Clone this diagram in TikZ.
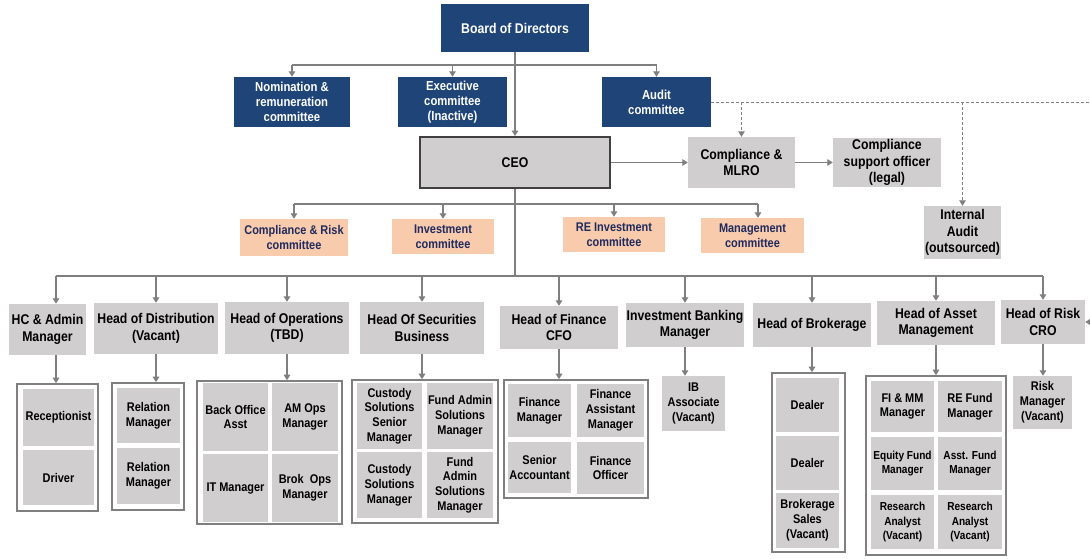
\documentclass[tikz,border=0pt]{standalone}
\usepackage{fontspec}
\setmainfont{Liberation Sans}[FakeStretch=0.87]
\usetikzlibrary{arrows.meta}
\definecolor{bblue}{HTML}{1F4478}
\definecolor{bgray}{HTML}{D0CECE}
\definecolor{borange}{HTML}{F8CBAD}
\definecolor{navytxt}{HTML}{1F2A5E}
\definecolor{lgray}{HTML}{7F7F7F}
\definecolor{ceoline}{HTML}{404040}
\newcommand\fH{\fontsize{14.1}{16.4}\selectfont\bfseries}
\newcommand\fB{\fontsize{13}{15}\selectfont\bfseries}
\newcommand\fS{\fontsize{12.6}{14.8}\selectfont\bfseries}
\newcommand\fT{\fontsize{11.6}{14.6}\selectfont\bfseries}
\newcommand\orgbox[7]{\node[#1, minimum width={(#5-#3)*1pt}, minimum height={(#6-#4)*1pt}] (#2) at ({(#3+#5)/2},{(#4+#6)/2}) {#7};}
\tikzset{
  every node/.style={inner sep=0.5pt, align=center, text=black},
  bluebox/.style={fill=bblue, text=white, font=\fB},
  graybox/.style={fill=bgray, font=\fH},
  subbox/.style={fill=bgray, font=\fS},
  tinybox/.style={fill=bgray, font=\fT},
  orangebox/.style={fill=borange, text=navytxt, font=\fS},
  ceobox/.style={fill=bgray, draw=ceoline, line width=2pt, font=\fH},
  container/.style={draw=lgray, line width=1.6pt, fill=white},
  conn/.style={draw=lgray, line width=1.3pt},
  arr/.style={conn, -{Triangle[width=6.5pt,length=5.5pt]}},
  dashconn/.style={draw=lgray, line width=1pt, dash pattern=on 3pt off 2pt},
  darr/.style={dashconn, -{Triangle[width=6.5pt,length=5.5pt]}}
}
\begin{document}
\begin{tikzpicture}[x=1pt,y=-1pt]
\useasboundingbox (0,0) rectangle (1090,558);
\fill[white] (0,0) rectangle (1090,558);
% top level
\orgbox{bluebox, font=\fH}{board}{441}{4}{589}{52}{Board of Directors}
\orgbox{bluebox}{nom}{234}{77}{350}{127}{Nomination \&\\remuneration\\committee}
\orgbox{bluebox}{exec}{398}{77}{507}{127}{Executive\\committee\\(Inactive)}
\orgbox{bluebox}{audit}{602}{77}{711}{127}{Audit\\committee}
\orgbox{ceobox}{ceo}{420}{137}{610}{188}{CEO}
\orgbox{graybox}{mlro}{688}{137}{795}{188}{Compliance \&\\MLRO}
\orgbox{graybox}{cso}{833}{138}{941}{187}{Compliance\\support officer\\(legal)}
\orgbox{graybox}{ia}{924}{206}{1001}{259}{Internal\\Audit\\(outsourced)}
% committees
\orgbox{orangebox}{cr}{240}{219}{348}{256}{Compliance \& Risk\\committee}
\orgbox{orangebox}{inv}{392}{219}{494}{254}{Investment\\committee}
\orgbox{orangebox}{rei}{563}{217}{665}{252}{RE Investment\\committee}
\orgbox{orangebox}{mgmt}{701}{218}{804}{253}{Management\\committee}
% heads
\orgbox{graybox}{hc}{9}{304}{86}{355}{HC \& Admin\\Manager}
\orgbox{graybox}{dist}{94}{303}{218}{354}{Head of Distribution\\(Vacant)}
\orgbox{graybox}{ops}{225}{302}{349}{354}{Head of Operations\\(TBD)}
\orgbox{graybox}{sec}{360}{302}{484}{354}{Head Of Securities\\Business}
\orgbox{graybox}{fin}{500}{306}{618}{349}{Head of Finance\\CFO}
\orgbox{graybox}{ib}{626}{303}{744}{347}{Investment Banking\\Manager}
\orgbox{graybox}{brk}{753}{303}{871}{347}{Head of Brokerage}
\orgbox{graybox}{am}{877}{301}{995}{345}{Head of Asset\\Management}
\orgbox{graybox}{cro}{1001}{300}{1085}{344}{Head of Risk\\CRO}
% containers
\orgbox{container}{hcC}{17}{384}{98}{511}{}
\orgbox{container}{distC}{112}{383}{184}{510}{}
\orgbox{container}{opsC}{197}{381}{342}{524}{}
\orgbox{container}{secC}{352}{380}{498}{523}{}
\orgbox{container}{finC}{504}{380}{648}{498}{}
\orgbox{container}{brkC}{772}{373}{845}{552}{}
\orgbox{container}{amC}{866}{376}{1006}{555}{}
% sub boxes
\orgbox{subbox}{recep}{23}{389}{94}{446}{Receptionist}
\orgbox{subbox}{driver}{23}{450}{94}{505}{Driver}
\orgbox{subbox}{rmA}{117}{388}{180}{443}{Relation\\Manager}
\orgbox{subbox}{rmB}{117}{448}{180}{504}{Relation\\Manager}
\orgbox{subbox}{boa}{203}{383}{268}{451}{Back Office\\Asst}
\orgbox{subbox}{amops}{272}{383}{338}{451}{AM Ops\\Manager}
\orgbox{subbox}{itm}{203}{454}{268}{522}{IT Manager}
\orgbox{subbox}{brok}{272}{454}{338}{522}{Brok\ \ Ops\\Manager}
\orgbox{subbox}{csA}{357}{383}{422}{449}{Custody\\Solutions\\Senior\\Manager}
\orgbox{subbox}{faA}{427}{383}{493}{449}{Fund Admin\\Solutions\\Manager}
\orgbox{subbox}{csB}{357}{452}{422}{518}{Custody\\Solutions\\Manager}
\orgbox{subbox}{faB}{427}{452}{493}{518}{Fund\\Admin\\Solutions\\Manager}
\orgbox{subbox}{fm}{508}{384}{571}{437}{Finance\\Manager}
\orgbox{subbox}{fam}{577}{384}{644}{437}{Finance\\Assistant\\Manager}
\orgbox{subbox}{sa}{508}{442}{571}{493}{Senior\\Accountant}
\orgbox{subbox}{fo}{577}{442}{644}{494}{Finance\\Officer}
\orgbox{subbox}{iba}{662}{376}{725}{431}{IB\\Associate\\(Vacant)}
\orgbox{subbox}{dA}{776}{378}{839}{432}{Dealer}
\orgbox{subbox}{dB}{776}{436}{839}{490}{Dealer}
\orgbox{subbox}{bs}{776}{493}{839}{548}{Brokerage\\Sales\\(Vacant)}
\orgbox{subbox}{fimm}{871}{381}{934}{432}{FI \& MM\\Manager}
\orgbox{subbox}{ref}{938}{381}{1002}{432}{RE Fund\\Manager}
\orgbox{tinybox}{eq}{871}{437}{934}{490}{Equity Fund\\Manager}
\orgbox{tinybox}{asst}{938}{437}{1002}{490}{Asst. Fund\\Manager}
\orgbox{tinybox}{raA}{871}{495}{934}{549}{Research\\Analyst\\(Vacant)}
\orgbox{tinybox}{raB}{938}{495}{1002}{549}{Research\\Analyst\\(Vacant)}
\orgbox{subbox}{rm}{1013}{376}{1072}{429}{Risk\\Manager\\(Vacant)}
% helper coordinates
\coordinate (tbus) at (0,65);
\coordinate (cbus) at (0,204);
\coordinate (hbus) at (0,276);
\coordinate (dR) at (1090,102);
\coordinate (rin) at (1091,322);
\coordinate (hcin) at ([xshift=8.5pt]hc.north);
\coordinate (mgin) at ([xshift=5.5pt]mgmt.north);
% board connectors
\draw[conn] (nom.north |- tbus) -- (audit.north |- tbus);
\draw[arr] (nom.north |- tbus) -- (nom.north);
\draw[arr] (exec.north |- tbus) -- (exec.north);
\draw[arr] (audit.north |- tbus) -- (audit.north);
\draw[arr] (board.south) -- (ceo.north);
\draw[arr] (ceo.east) -- (mlro.west);
\draw[arr] (mlro.east) -- (cso.west);
% dashed audit lines
\draw[dashconn] (audit.east) -- (dR);
\draw[darr] (mlro.north |- audit.east) -- (mlro.north);
\draw[darr] (ia.north |- audit.east) -- (ia.north);
% committees
\draw[conn] (cr.north |- cbus) -- (mgin |- cbus);
\draw[arr] (cr.north |- cbus) -- (cr.north);
\draw[arr] (inv.north |- cbus) -- (inv.north);
\draw[arr] (rei.north |- cbus) -- (rei.north);
\draw[arr] (mgin |- cbus) -- (mgin);
% heads
\draw[conn] (ceo.south) -- (ceo.south |- hbus);
\draw[conn] (hcin |- hbus) -- (cro.north |- hbus);
\draw[arr] (hcin |- hbus) -- (hcin);
\foreach \h in {dist,ops,sec,fin,ib,brk,am,cro}{
  \draw[arr] (\h.north |- hbus) -- (\h.north);
}
% heads to teams
\draw[arr] (hcin |- hc.south) -- (hcin |- hcC.north);
\draw[arr] (dist.south) -- (dist.south |- distC.north);
\draw[arr] (ops.south) -- (ops.south |- opsC.north);
\draw[arr] (sec.south) -- (sec.south |- secC.north);
\draw[arr] (fin.south) -- (fin.south |- finC.north);
\draw[arr] (ib.south) -- (ib.south |- iba.north);
\draw[arr] (brk.south) -- (brk.south |- brkC.north);
\draw[arr] (am.south) -- (am.south |- amC.north);
\draw[arr] (cro.south) -- (cro.south |- rm.north);
\draw[arr] (rin) -- (cro.east);
\end{tikzpicture}
\end{document}
